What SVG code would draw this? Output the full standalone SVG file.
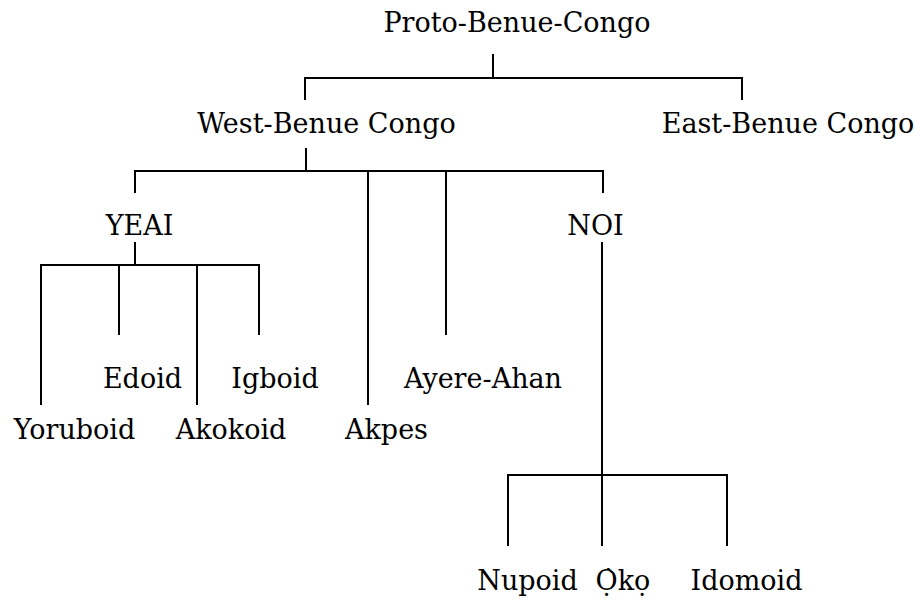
<svg xmlns="http://www.w3.org/2000/svg" width="915" height="601" viewBox="0 0 915 601">
<style>
text{font-family:"DejaVu Serif","Liberation Serif",serif;font-size:27px;fill:#000;text-anchor:middle}
.c path{fill:none;stroke:#000;stroke-width:2}
</style>
<rect width="915" height="601" fill="#fff"/>
<g class="c" id="connectors">
<path d="M493 54V78M305 100V78H742V100"/>
<path d="M306 148V171M135 193V171H603V193M368 171V405M446 171V335"/>
<path d="M135 242V265M41 405V265H259V335M119 265V335M197 265V405"/>
<path d="M602 242V546M508 546V475H727V546"/>
</g>
<g id="proto"><text x="517" y="32">Proto-Benue-Congo</text></g>
<g id="west"><text x="326.5" y="133">West-Benue Congo</text></g>
<g id="east"><text x="788" y="133">East-Benue Congo</text></g>
<g id="yeai"><text x="139.5" y="235">YEAI</text></g>
<g id="noi"><text x="595.5" y="235">NOI</text></g>
<g id="edoid"><text x="142.5" y="388">Edoid</text></g>
<g id="igboid"><text x="275" y="388">Igboid</text></g>
<g id="ayere"><text x="483" y="388">Ayere-Ahan</text></g>
<g id="yoruboid"><text x="74.5" y="439">Yoruboid</text></g>
<g id="akokoid"><text x="231" y="439">Akokoid</text></g>
<g id="akpes"><text x="386.5" y="439">Akpes</text></g>
<g id="nupoid"><text x="527.5" y="590">Nupoid</text></g>
<g id="oko"><text x="623" y="590">Ọ̀kọ</text></g>
<g id="idomoid"><text x="746.5" y="590">Idomoid</text></g>
</svg>
